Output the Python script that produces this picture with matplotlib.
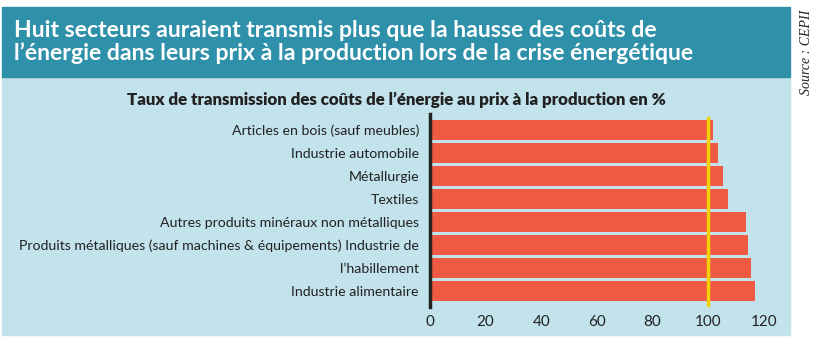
import matplotlib.pyplot as plt
from matplotlib.patches import Rectangle

categories = [
    "Articles en bois (sauf meubles)",
    "Industrie automobile",
    "Métallurgie",
    "Textiles",
    "Autres produits minéraux non métalliques",
    "Produits métalliques (sauf machines & équipements) Industrie de",
    "l\u2019habillement",
    "Industrie alimentaire",
]
values = [101.7, 103.5, 105.3, 107.1, 113.6, 114.3, 115.4, 116.8]
xticks = [0, 20, 40, 60, 80, 100, 120]
threshold = 100

title = ("Huit secteurs auraient transmis plus que la hausse des coûts de\n"
         "l\u2019énergie dans leurs prix à la production lors de la crise énergétique")
subtitle = "Taux de transmission des coûts de l\u2019énergie au prix à la production en %"
source = "Source : CEPII"

W, H = 818, 345
teal = "#2e90a9"
panel = "#c2e2ec"
bar_color = "#f05a43"
yellow = "#f5d000"
dark = "#222222"

plt.rcParams['font.family'] = ['Lato', 'DejaVu Sans']

fig = plt.figure(figsize=(W / 100, H / 100), dpi=100)
fig.patch.set_facecolor("white")

# banner and panel
fig.add_artist(Rectangle((2 / W, (H - 335) / H), 788 / W, (335 - 77) / H,
                         transform=fig.transFigure, color=panel, zorder=0))
fig.add_artist(Rectangle((2 / W, (H - 77) / H), 788 / W, (77 - 7) / H,
                         transform=fig.transFigure, color=teal, zorder=0))
fig.text(14 / W, (H - 42) / H, title, color="white", fontsize=16.6,
         fontweight="bold", va="center", ha="left", linespacing=1.12)
fig.text(806 / W, (H - 52) / H, source, rotation=90, fontsize=10,
         family="Liberation Serif", style="italic", color=dark,
         ha="center", va="center")
fig.text(396 / W, (H - 100) / H, subtitle, fontsize=12.2, fontweight="heavy",
         color=dark, ha="center", va="center")

# axes: x from 0 at px 430, 2.78 px per unit; y spine from px 114 to 307
x0, ppu = 430, 2.78
xmax = 125
top, bottom = 114, 307
ax = fig.add_axes([x0 / W, (H - bottom) / H, xmax * ppu / W, (bottom - top) / H])
ax.set_facecolor("none")

pos = list(range(len(categories)))
ax.barh(pos, values, height=0.85, color=bar_color, zorder=2)
ax.set_xlim(0, xmax)
ax.set_ylim(len(categories) - 1 + 0.696, -0.696)
ax.axvline(threshold, ymin=0, ymax=0.979, color=yellow, linewidth=2.5, zorder=3)

ax.set_yticks(pos)
ax.set_yticklabels(categories, fontsize=10.2, color=dark)
ax.set_xticks(xticks)
ax.set_xticklabels([str(t) for t in xticks], fontsize=11, color=dark)
ax.tick_params(axis="y", length=0, pad=8)
ax.tick_params(axis="x", length=0, pad=6)

for s in ["top", "right", "bottom"]:
    ax.spines[s].set_visible(False)
ax.spines["left"].set_color(dark)
ax.spines["left"].set_linewidth(2.5)
ax.spines["left"].set_zorder(4)

fig.savefig("out.png", dpi=100)
